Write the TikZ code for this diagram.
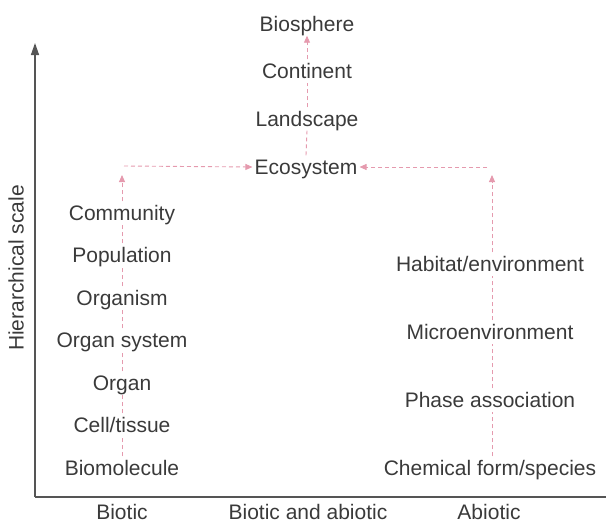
\documentclass[tikz,border=0pt]{standalone}
\usepackage{fontspec}
\setmainfont{Liberation Sans}
\usetikzlibrary{arrows.meta}
\definecolor{txt}{HTML}{3A3A3A}
\definecolor{axisgray}{HTML}{555555}
\definecolor{pinkline}{HTML}{E59AAE}
\tikzset{
  lbl/.style={font=\fontsize{21}{24}\selectfont, text=txt, inner sep=2pt, text height=17pt, text depth=2pt, anchor=center},
  dlink/.style={draw=pinkline, line width=0.9pt, dash pattern=on 4pt off 3pt},
  darrow/.style={dlink, -{Triangle[length=7pt,width=6pt]}},
  axisline/.style={draw=axisgray, line width=1.4pt}
}
\begin{document}
\begin{tikzpicture}[x=1pt,y=-1pt]
\useasboundingbox (0,0) rectangle (606,523);
% axes
\coordinate (origin) at (35,497);
\coordinate (ytop) at (35,43);
\coordinate (xend) at (606,497);
\draw[axisline, -{Triangle[length=12pt,width=8pt]}] (origin) -- (ytop);
\draw[axisline] (origin) -- (xend);
\node[lbl, rotate=90] (yl) at (16,268) {Hierarchical scale};
% bottom labels
\node[lbl, inner sep=0.5pt] (xb) at (122,511.5) {Biotic};
\node[lbl, inner sep=0.5pt] (xm) at (308,511.5) {Biotic and abiotic};
\node[lbl, inner sep=0.5pt] (xa) at (489,511.5) {Abiotic};
% middle column
\node[lbl] (bio) at (307,24) {Biosphere};
\node[lbl] (con) at (307,71) {Continent};
\node[lbl] (lan) at (307,119) {Landscape};
\node[lbl] (eco) at (306,167) {Ecosystem};
% biotic column
\node[lbl] (com) at (122,213) {Community};
\node[lbl] (pop) at (122,255) {Population};
\node[lbl] (org) at (122,298) {Organism};
\node[lbl] (ors) at (122,340) {Organ system};
\node[lbl] (orn) at (122,383) {Organ};
\node[lbl] (cel) at (122,425) {Cell/tissue};
\node[lbl] (bmo) at (122,468) {Biomolecule};
% abiotic column
\node[lbl] (hab) at (490,264) {Habitat/environment};
\node[lbl] (mic) at (490,332) {Microenvironment};
\node[lbl] (pha) at (490,400) {Phase association};
\node[lbl] (che) at (490,468) {Chemical form/species};
% helper coordinates
\coordinate (btip) at (122,175);
\coordinate (bstart) at (124,166);
\coordinate (atip) at (492,175);
\coordinate (astart) at (487,167);
% middle links
\draw[dlink] (eco.north) -- (lan.south);
\draw[dlink] (lan.north) -- (con.south);
\draw[darrow] (con.north) -- (bio.south);
% biotic links
\draw[dlink] (bmo.north) -- (cel.south);
\draw[dlink] (cel.north) -- (orn.south);
\draw[dlink] (orn.north) -- (ors.south);
\draw[dlink] (ors.north) -- (org.south);
\draw[dlink] (org.north) -- (pop.south);
\draw[dlink] (pop.north) -- (com.south);
\draw[darrow] (com.north) -- (btip);
\draw[darrow] (bstart) -- (eco.west);
% abiotic links
\draw[dlink] (che.north -| atip) -- (pha.south -| atip);
\draw[dlink] (pha.north -| atip) -- (mic.south -| atip);
\draw[dlink] (mic.north -| atip) -- (hab.south -| atip);
\draw[darrow] (hab.north -| atip) -- (atip);
\draw[darrow] (astart) -- (eco.east);
\end{tikzpicture}
\end{document}
